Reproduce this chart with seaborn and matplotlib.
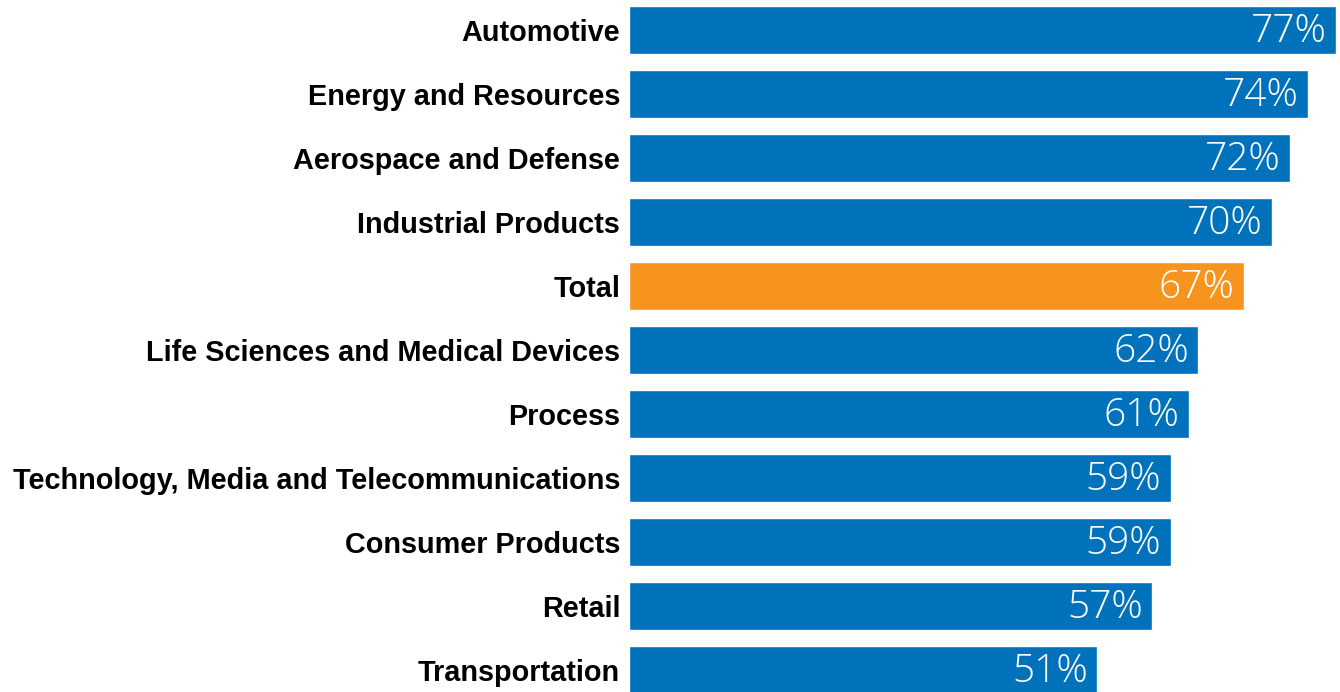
import matplotlib
matplotlib.use("Agg")
import matplotlib.pyplot as plt
import seaborn as sns
import pandas as pd

categories = [
    "Automotive",
    "Energy and Resources",
    "Aerospace and Defense",
    "Industrial Products",
    "Total",
    "Life Sciences and Medical Devices",
    "Process",
    "Technology, Media and Telecommunications",
    "Consumer Products",
    "Retail",
    "Transportation",
]
values = [77, 74, 72, 70, 67, 62, 61, 59, 59, 57, 51]
value_labels = ["77%", "74%", "72%", "70%", "67%", "62%", "61%", "59%", "59%", "57%", "51%"]

BLUE = "#0072BC"
ORANGE = "#F7941D"
colors = [ORANGE if c == "Total" else BLUE for c in categories]

sns.set_theme(style="white")

df = pd.DataFrame({"category": categories, "value": values})

fig = plt.figure(figsize=(13.4, 6.92), dpi=100)
ax = fig.add_axes([628.5 / 1340, 0, 711.5 / 1340, 1])

sns.barplot(data=df, y="category", x="value", hue="category", palette=colors,
            legend=False, width=0.75, orient="h", ax=ax, saturation=1)

ax.set_xlim(0, 77.45)
ax.set_ylim(10.344, -0.469)
ax.set_xlabel("")
ax.set_ylabel("")
ax.set_xticks([])
for s in ax.spines.values():
    s.set_visible(False)

ax.tick_params(axis="y", length=0, pad=6)
ax.set_yticks(range(len(categories)))
ax.set_yticklabels(categories, fontsize=20.8, fontweight="bold",
                   family=["Liberation Sans", "DejaVu Sans"], color="#000000")

for i, (v, lab) in enumerate(zip(values, value_labels)):
    ax.text(v - 1.0, i + 0.03, lab, ha="right", va="center", color="white",
            fontsize=28, fontweight=300, family=["Open Sans", "DejaVu Sans"])

fig.savefig("out.png", dpi=100)
